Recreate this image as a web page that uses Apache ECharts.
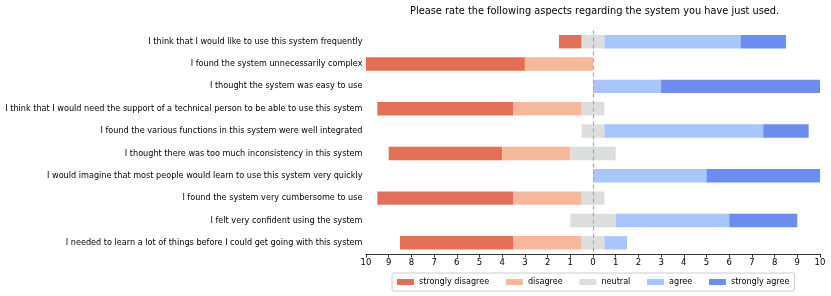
<!DOCTYPE html>
<html>
<head>
<meta charset="utf-8">
<script src="https://cdn.jsdelivr.net/npm/echarts@6/dist/echarts.min.js"></script>
<style>html,body{margin:0;padding:0;background:#fff}#c{width:831px;height:296px}</style>
</head>
<body>
<div id="c"></div>
<script>
const questions = [
  "I think that I would like to use this system frequently",
  "I found the system unnecessarily complex",
  "I thought the system was easy to use",
  "I think that I would need the support of a technical person to be able to use this system",
  "I found the various functions in this system were well integrated",
  "I thought there was too much inconsistency in this system",
  "I would imagine that most people would learn to use this system very quickly",
  "I found the system very cumbersome to use",
  "I felt very confident using the system",
  "I needed to learn a lot of things before I could get going with this system"
];
const stronglyDisagree = [1, 7, 0, 6, 0, 5, 0, 6, 0, 5];
const disagree         = [0, 3, 0, 3, 0, 3, 0, 3, 0, 3];
const neutral          = [1, 0, 0, 1, 1, 2, 0, 1, 2, 1];
const agree            = [6, 0, 3, 0, 7, 0, 5, 0, 5, 1];
const stronglyAgree    = [2, 0, 7, 0, 2, 0, 5, 0, 3, 0];
const seriesNames = ["strongly disagree", "disagree", "neutral", "agree", "strongly agree"];
const colors = ["#e46e56", "#f6b89b", "#dcdddd", "#a9c6fc", "#6a8def"];
const title = "Please rate the following aspects regarding the system you have just used.";

const offsets = questions.map((q, i) => -(stronglyDisagree[i] + disagree[i] + neutral[i] / 2));
const values = [stronglyDisagree, disagree, neutral, agree, stronglyAgree];
const FONT = "DejaVu Sans";

const series = [{
  name: "offset", type: "bar", stack: "t", stackStrategy: "all", data: offsets,
  itemStyle: { color: "rgba(0,0,0,0)" }, silent: true, barWidth: "60%"
}];
values.forEach((v, k) => {
  series.push({
    name: seriesNames[k], type: "bar", stack: "t", stackStrategy: "all", data: v,
    barWidth: "60%", itemStyle: { color: colors[k] }
  });
});
series[series.length - 1].markLine = {
  silent: true, symbol: "none", label: { show: false },
  lineStyle: { color: "#a8a8a8", type: [4, 3], width: 1.2 },
  data: [{ xAxis: 0 }], z: 10
};

const chart = echarts.init(document.getElementById("c"), null, { renderer: "canvas" });
chart.setOption({
  animation: false,
  textStyle: { fontFamily: FONT },
  title: {
    text: title, left: 405, top: 1,
    textStyle: { fontFamily: FONT, fontSize: 9.8, fontWeight: "normal", color: "#000" }
  },
  grid: { left: 366, right: 11, top: 30.5, bottom: 42, containLabel: false },
  xAxis: {
    type: "value", min: -10, max: 10, interval: 1,
    axisLine: { show: true, lineStyle: { color: "#000", width: 0.8 } },
    axisTick: { show: true, length: 3.5, lineStyle: { color: "#000", width: 0.8 } },
    splitLine: { show: false },
    axisLabel: { formatter: v => String(Math.abs(v)), fontSize: 8.5, color: "#000", margin: 4, fontFamily: FONT }
  },
  yAxis: {
    type: "category", inverse: true, data: questions,
    axisLine: { show: false }, axisTick: { show: false },
    axisLabel: { fontSize: 8.15, color: "#000", margin: 3.5, fontFamily: FONT }
  },
  legend: {
    data: seriesNames, left: 392, top: 273, icon: "rect", itemWidth: 17, itemHeight: 6, itemGap: 16.7,
    borderColor: "#cccccc", borderWidth: 1, borderRadius: 2, padding: [5, 5],
    textStyle: { fontSize: 8.1, color: "#000", fontFamily: FONT }
  },
  series: series
});
</script>
</body>
</html>
